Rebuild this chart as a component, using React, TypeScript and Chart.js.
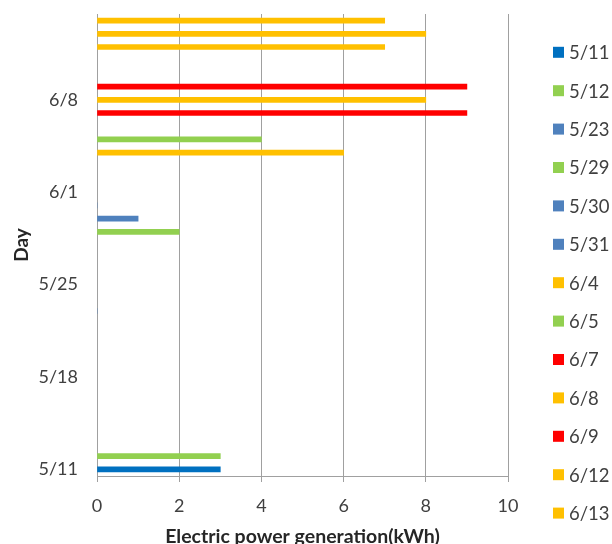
import React, { useEffect, useRef } from 'react';
import { Chart, registerables } from 'chart.js';

Chart.register(...registerables);

const days = ['5/11', '5/12', '5/23', '5/29', '5/30', '5/31', '6/4', '6/5', '6/7', '6/8', '6/9', '6/12', '6/13', '6/14'];
const generation = [3, 3, 0, 2, 1, 0, 6, 4, 9, 8, 9, 7, 8, 7];
const colors = ['#0070C0', '#92D050', '#4F81BD', '#92D050', '#4F81BD', '#4F81BD', '#FFC000', '#92D050', '#FF0000', '#FFC000', '#FF0000', '#FFC000', '#FFC000', '#FFC000'];
const dayTickLabels = ['5/11', '5/18', '5/25', '6/1', '6/8'];
const legendDays = ['5/11', '5/12', '5/23', '5/29', '5/30', '5/31', '6/4', '6/5', '6/7', '6/8', '6/9', '6/12', '6/13'];

const FONT = 'Lato';

function dayNum(s: string): number {
  const [m, d] = s.split('/').map(Number);
  const base = Date.UTC(2015, 4, 11);
  return Math.round((Date.UTC(2015, m - 1, d) - base) / 86400000);
}
function dayLabel(n: number): string {
  const dt = new Date(Date.UTC(2015, 4, 11) + n * 86400000);
  return `${dt.getUTCMonth() + 1}/${dt.getUTCDate()}`;
}

const sideLegend = {
  id: 'sideLegend',
  afterDraw(chart: any) {
    const ctx = chart.ctx;
    ctx.save();
    let k = 0;
    chart.data.datasets.forEach((ds: any) => {
      if (!legendDays.includes(ds.label)) return;
      const y = 52.3 + k * 38.4;
      k++;
      ctx.fillStyle = ds.backgroundColor;
      ctx.fillRect(553, y - 5.5, 11, 11);
      ctx.fillStyle = '#404040';
      ctx.font = `18.5px ${FONT}`;
      ctx.textBaseline = 'middle';
      ctx.textAlign = 'left';
      ctx.fillText(ds.label, 569, y + 1);
    });
    ctx.restore();
  },
};

export default function App() {
  const ref = useRef<HTMLCanvasElement>(null);
  useEffect(() => {
    if (!ref.current) return;
    const datasets = days.map((d, i) => ({
      label: d,
      data: [{ x: generation[i], y: dayNum(d) }],
      backgroundColor: colors[i],
      borderWidth: 0,
      barThickness: 5,
      grouped: false,
    }));
    const chart = new Chart(ref.current, {
      type: 'bar',
      data: { datasets } as any,
      options: {
        animation: false,
        responsive: false,
        indexAxis: 'y',
        layout: { padding: { left: 0, right: 104, top: 14, bottom: 0 } },
        plugins: { legend: { display: false }, tooltip: { enabled: false } },
        scales: {
          x: {
            type: 'linear',
            min: 0,
            max: 10,
            ticks: { stepSize: 2, color: '#404040', font: { family: FONT, size: 18 }, padding: 13 },
            grid: { color: '#A0A0A0', tickLength: 6, lineWidth: 1 },
            border: { color: '#A0A0A0' },
            title: {
              display: true,
              text: 'Electric power generation(kWh)',
              color: '#262626',
              font: { family: FONT, size: 19.5, weight: 'bold' },
              padding: { top: 0, bottom: -4 },
            },
            afterFit(scale: any) {
              scale.height = 68;
            },
          },
          y: {
            type: 'linear',
            offset: false,
            min: -0.5,
            max: 34.5,
            afterBuildTicks(scale: any) {
              scale.ticks = dayTickLabels.map((l) => ({ value: dayNum(l) }));
            },
            ticks: {
              color: '#404040',
              font: { family: FONT, size: 18 },
              padding: 19,
              callback: (v: any) => dayLabel(Number(v)),
            },
            grid: { display: false, drawTicks: false, offset: false },
            border: { display: true, color: '#A0A0A0' },
            title: {
              display: true,
              text: 'Day',
              color: '#262626',
              font: { family: FONT, size: 19, weight: 'bold' },
              padding: { top: 10, bottom: 0 },
            },
            afterFit(scale: any) {
              scale.width = 97;
              scale.paddingTop = 0;
              scale.paddingBottom = 0;
            },
          },
        },
      },
      plugins: [sideLegend],
    } as any);
    return () => chart.destroy();
  }, []);
  return (
    <div style={{ position: 'fixed', left: 0, top: 0, width: 612, height: 544, background: '#fff' }}>
      <canvas ref={ref} width={612} height={544} style={{ width: 612, height: 544 }} />
    </div>
  );
}
